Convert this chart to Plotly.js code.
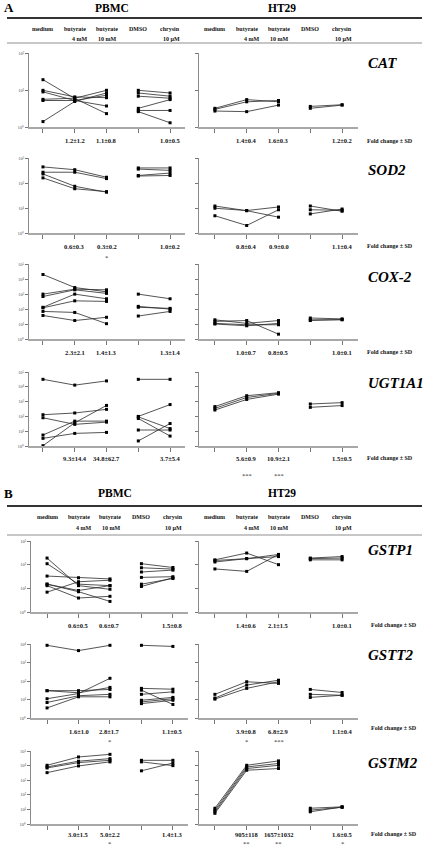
<!DOCTYPE html>
<html><head><meta charset="utf-8">
<script src="https://cdn.plot.ly/plotly-3.0.1.min.js"></script>
<style>html,body{margin:0;padding:0;background:#fff;}#chart{width:425px;height:848px;}</style>
</head><body><div id="chart"></div>
<script>
// ---------- DATA ----------
const genes = ['CAT','SOD2','COX-2','UGT1A1','GSTP1','GSTT2','GSTM2'];
const cellTypes = ['PBMC','HT29'];
const headerTop = ['medium','butyrate','butyrate','DMSO','chrysin'];
const headerBottom = ['','4 mM','10 mM','','10 µM'];
const decades = [2,3,5,5,3,4,5]; // log-axis span of each gene panel (10^0 .. 10^n)

// each row = one donor / replicate: [medium, butyrate 4 mM, butyrate 10 mM]
const CAT_PBMC_but = [[19,5.9,2.3],[9.8,6.5,6.2],[8.9,5.2,7.2],[5.6,6.0,9.8],[5.2,5.2,3.7],[1.4,4.9,8.3]];
const CAT_PBMC_chr = [[9.8,8.3],[8.3,6.8],[6.8,6.0],[3.2,5.5],[2.8,2.8],[2.6,1.3]];
const CAT_HT29_but = [[3.2,5.5,4.8],[3.0,4.8,5.2],[2.7,2.6,3.9]];
const CAT_HT29_chr = [[3.6,4.0],[3.2,3.9]];

const SOD2_PBMC_but = [[440,340,170],[270,270,150],[230,74,43],[160,59,45]];
const SOD2_PBMC_chr = [[400,400],[360,320],[200,250],[190,200]];
const SOD2_HT29_but = [[12,7.8,4.3],[9.8,7.9,11],[4.9,2.0,8.5]];
const SOD2_HT29_chr = [[12,7.4],[8.5,8.1],[5.8,9.1]];

const COX2_PBMC_but = [[20000,2700,1400],[980,2100,1900],[680,1900,1100],[130,980,480],[120,350,320],[69,59,10.5],[37,17,28]];
const COX2_PBMC_chr = [[980,480],[150,98],[130,110],[34,69]];
const COX2_HT29_but = [[19,11,17],[15,17,2.1],[11,8.9,8.9],[10,7.6,11]];
const COX2_HT29_chr = [[25,22],[19,19],[17,20]];

const UGT1A1_PBMC_but = [[32000,13000,25000],[130,170,300],[81,29,41],[5.5,48,48],[3.3,7.1,8.3],[1.05,37,550]];
const UGT1A1_PBMC_chr = [[32000,32000],[100,630],[93,15],[72,4.7],[12,12],[2.2,33]];
const UGT1A1_HT29_but = [[460,2500,4000],[350,1900,3600],[270,1400,3200]];
const UGT1A1_HT29_chr = [[690,850],[410,540]];

const GSTP1_PBMC_but = [[190,13,9.1],[110,15,13],[33,28,25],[15,7.2,2.8],[13,3.9,4.6],[6.9,19,22],[15,8.1,13]];
const GSTP1_PBMC_chr = [[110,76],[74,65],[49,59],[29,31],[15,26],[12,28]];
const GSTP1_HT29_but = [[160,310,100],[130,180,220],[150,180,270],[66,52,270]];
const GSTP1_HT29_chr = [[190,220],[180,190],[160,160]];

const GSTT2_PBMC_but = [[8500,4400,8500],[30,30,35],[30,23,45],[11,21,140],[6.9,16,19],[3.5,14,14]];
const GSTT2_PBMC_chr = [[8500,7400],[40,36],[32,5.4],[19,26],[9.1,13],[7.4,11],[6.0,9.1]];
const GSTT2_HT29_but = [[19,91,74],[12,60,110],[10.5,40,91]];
const GSTT2_HT29_chr = [[35,24],[19,17],[13,17]];

const GSTM2_PBMC_but = [[10500,39000,59000],[8100,20000,30000],[6900,16000,23000],[3300,9500,18000]];
const GSTM2_PBMC_chr = [[23000,23000],[18000,10000],[4400,15000]];
const GSTM2_HT29_but = [[12,10500,21000],[8.9,8100,14000],[6.9,6300,10500],[5.4,4800,6300]];
const GSTM2_HT29_chr = [[12,15],[8.9,14],[6.9,14.5]];

// fold change ± SD (per gene, in gene order)
const foldPBMC_b4  = ['1.2±1.2','0.6±0.3','2.3±2.1','9.3±14.4','0.6±0.5','1.6±1.0','3.0±1.5'];
const foldPBMC_b10 = ['1.1±0.8','0.3±0.2','1.4±1.3','34.8±62.7','0.6±0.7','2.8±1.7','5.0±2.2'];
const foldPBMC_chr = ['1.0±0.5','1.0±0.2','1.3±1.4','3.7±5.4','1.5±0.8','1.1±0.5','1.4±1.3'];
const foldHT29_b4  = ['1.4±0.4','0.8±0.4','1.0±0.7','5.6±0.9','1.4±0.6','3.9±0.8','905±118'];
const foldHT29_b10 = ['1.6±0.3','0.9±0.0','0.8±0.5','10.9±2.1','2.1±1.5','6.8±2.9','1657±1032'];
const foldHT29_chr = ['1.2±0.2','1.1±0.4','1.0±0.1','1.5±0.5','1.0±0.1','1.1±0.4','1.6±0.5'];
const starsPBMC_b4  = ['','','','','','',''];
const starsPBMC_b10 = ['','*','','','','*','*'];
const starsPBMC_chr = ['','','','','','',''];
const starsHT29_b4  = ['','','','***','','*','**'];
const starsHT29_b10 = ['','','','***','','***','**'];
const starsHT29_chr = ['','','','','','','*'];

const butData = [[CAT_PBMC_but,CAT_HT29_but],[SOD2_PBMC_but,SOD2_HT29_but],[COX2_PBMC_but,COX2_HT29_but],
  [UGT1A1_PBMC_but,UGT1A1_HT29_but],[GSTP1_PBMC_but,GSTP1_HT29_but],[GSTT2_PBMC_but,GSTT2_HT29_but],[GSTM2_PBMC_but,GSTM2_HT29_but]];
const chrData = [[CAT_PBMC_chr,CAT_HT29_chr],[SOD2_PBMC_chr,SOD2_HT29_chr],[COX2_PBMC_chr,COX2_HT29_chr],
  [UGT1A1_PBMC_chr,UGT1A1_HT29_chr],[GSTP1_PBMC_chr,GSTP1_HT29_chr],[GSTT2_PBMC_chr,GSTT2_HT29_chr],[GSTM2_PBMC_chr,GSTM2_HT29_chr]];
const foldData = [[foldPBMC_b4,foldPBMC_b10,foldPBMC_chr],[foldHT29_b4,foldHT29_b10,foldHT29_chr]];
const starData = [[starsPBMC_b4,starsPBMC_b10,starsPBMC_chr],[starsHT29_b4,starsHT29_b10,starsHT29_chr]];

// ---------- GEOMETRY (pixels) ----------
const W = 425, H = 848;
const FONT = '"Liberation Serif","Times New Roman",serif';
const tops = [53,158,264,372,541,644,751];
const bots = [127,233,339,446,612,718,824];
const foldY = [140,247,352,458,625,731,834];
const starY = [0,257,0,475,0,741,843];
const foldLabelY = [141,246,352,458,625,728,834];
const geneY = [63,170,277,383,550,655,763];
const px = x => x / W, py = y => 1 - y / H;
const sup = ['⁰','¹','²','³','⁴','⁵','⁶'];

const data = [], layout = {
  width: W, height: H, margin: {l:0,r:0,t:0,b:0}, showlegend: false,
  paper_bgcolor: '#fff', plot_bgcolor: 'rgba(0,0,0,0)',
  annotations: [], shapes: []
};

function ann(o) {
  layout.annotations.push(Object.assign({showarrow:false, xref:'paper', yref:'paper',
    font:{family:FONT, size:6, color:'#111'}}, o));
}

genes.forEach((g, gi) => {
  const blockB = gi >= 4;
  for (let side = 0; side < 2; side++) {
    const k = gi * 2 + side + 1;
    const xn = 'x' + (k > 1 ? k : ''), yn = 'y' + (k > 1 ? k : '');
    const xa = 'xaxis' + (k > 1 ? k : ''), ya = 'yaxis' + (k > 1 ? k : '');
    let dom, rng;
    if (side === 1) { dom = [199,358]; rng = [-0.5,4.5]; }
    else if (blockB) { dom = [31,188]; rng = [-0.51,4.48]; }
    else { dom = [29,185]; rng = [-0.44,4.47]; }
    const n = decades[gi];
    const tv = [], tt = [];
    for (let e = 0; e <= n; e++) { tv.push(Math.pow(10, e)); tt.push('10' + sup[e]); }
    layout[xa] = {domain:[px(dom[0]), px(dom[1])], range:rng, anchor:yn,
      tickvals:[0,1,2,3,4], showticklabels:false, ticks:'outside', ticklen:4, tickwidth:1, tickcolor:'#777',
      showline:true, linecolor:'#a8a8a8', linewidth:1.6, showgrid:false, zeroline:false, fixedrange:true};
    layout[ya] = {domain:[py(bots[gi]), py(tops[gi])], type:'log', range:[0,n], anchor:xn,
      tickvals:tv, ticktext:tt, showticklabels: side === 0,
      tickfont:{family:FONT, size:4.5, color:'#555'}, ticks:'outside', ticklen:3, tickwidth:1, tickcolor:'#777',
      showline:true, linecolor:'#8a8a8a', linewidth:1, showgrid:false, zeroline:false, fixedrange:true};

    const style = {mode:'lines+markers', xaxis:xn, yaxis:yn, hoverinfo:'skip', cliponaxis:false,
      line:{color:'#2a2a2a', width:0.8}, marker:{symbol:'square', size:3, color:'#000'}};
    butData[gi][side].forEach(d => data.push(Object.assign({x:[0,1,2], y:d}, style)));
    chrData[gi][side].forEach(d => data.push(Object.assign({x:[3,4], y:d}, style)));

    // fold change values + significance
    [1,2,4].forEach((cx, j) => {
      ann({xref:xn, x:cx, y:py(foldY[gi]), text:'<b>' + foldData[side][j][gi] + '</b>',
        font:{family:FONT, size:6.5, color:'#111'}, xanchor:'center', yanchor:'middle'});
      const s = starData[side][j][gi];
      if (s) ann({xref:xn, x:cx, y:py(starY[gi]), text:s,
        font:{family:FONT, size:6.5, color:'#333'}, xanchor:'center', yanchor:'middle'});
    });
  }
  // gene label
  ann({x:px(366), y:py(geneY[gi]), text:'<b><i>' + g + '</i></b>', xanchor:'left', yanchor:'middle',
    font:{family:FONT, size:15, color:'#000'}});
  ann({x:px(blockB ? 369 : 365), y:py(foldLabelY[gi]), text:'<b>Fold change ± SD</b>', xanchor:'left', yanchor:'middle',
    font:{family:FONT, size:6, color:'#111'}});
});

// block headers
[[0, 'A', 8, 18, 29, 39, 43], [4, 'B', 493, 506, 517, 528, 535]].forEach(b => {
  const [gi, letter, titleY, blackY, h1, h2, grayY] = b;
  ann({x:px(2), y:py(titleY), text:'<b>' + letter + '</b>', xanchor:'left', yanchor:'middle',
    font:{family:FONT, size:13, color:'#000'}});
  ann({x:px(gi === 0 ? 112 : 115), y:py(titleY), text:'<b>PBMC</b>', xanchor:'center', yanchor:'middle',
    font:{family:FONT, size:11.5, color:'#000'}});
  ann({x:px(282), y:py(titleY), text:'<b>HT29</b>', xanchor:'center', yanchor:'middle',
    font:{family:FONT, size:11.5, color:'#000'}});
  layout.shapes.push({type:'line', xref:'paper', yref:'paper', x0:px(7), x1:px(422), y0:py(blackY), y1:py(blackY),
    line:{color:'#333', width:2}});
  layout.shapes.push({type:'line', xref:'paper', yref:'paper', x0:px(7), x1:px(422), y0:py(grayY), y1:py(grayY),
    line:{color:'#b4b4b4', width:1.6}});
  for (let side = 0; side < 2; side++) {
    const k = gi * 2 + side + 1;
    const xn = 'x' + (k > 1 ? k : '');
    headerTop.forEach((t, c) => ann({xref:xn, x:c, y:py(h1), text:'<b>' + t + '</b>', xanchor:'center', yanchor:'middle'}));
    headerBottom.forEach((t, c) => { if (t) ann({xref:xn, x:c + (c === 1 ? 0.15 : 0.03), y:py(h2), text:'<b>' + t + '</b>',
      xanchor:'center', yanchor:'middle'}); });
  }
});

Plotly.newPlot('chart', data, layout, {staticPlot:true, displayModeBar:false});
</script>
</body></html>
